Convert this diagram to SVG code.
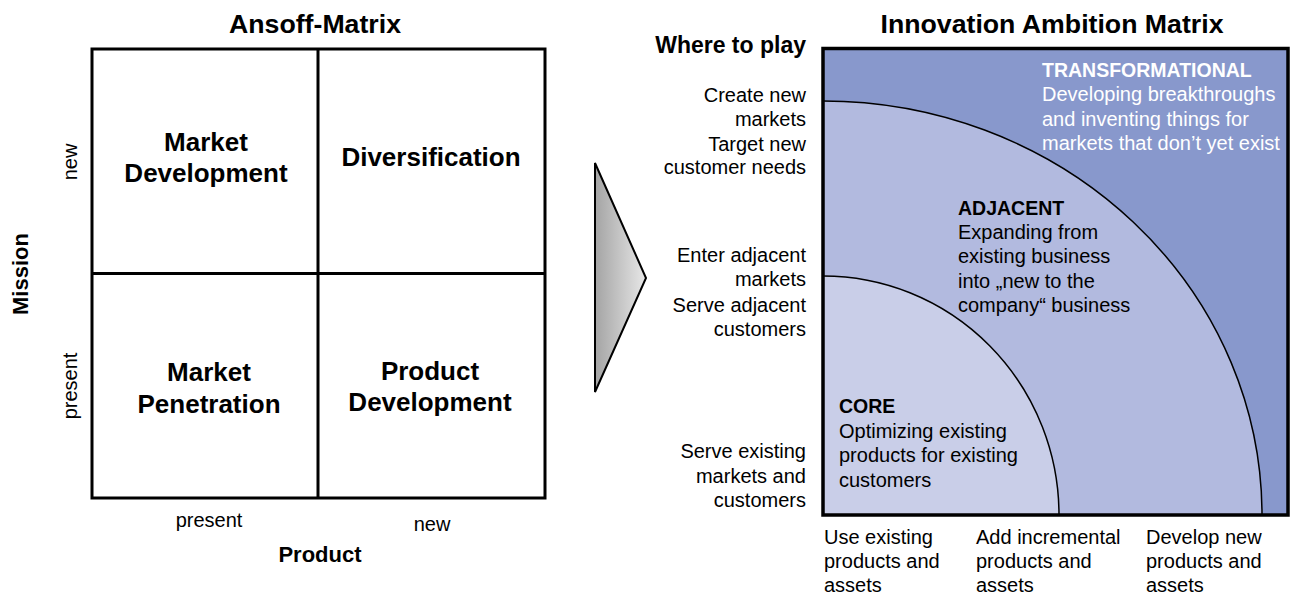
<svg xmlns="http://www.w3.org/2000/svg" width="1290" height="594" viewBox="0 0 1290 594">
<style>
text{font-family:"Liberation Sans",Arial,sans-serif;fill:#000}
.t{font-size:26.7px;font-weight:bold;text-anchor:middle}
.c{font-size:26px;font-weight:bold;text-anchor:middle}
.ax{font-size:20px;text-anchor:middle}
.axb{font-size:22px;font-weight:bold;text-anchor:middle}
.l{font-size:20px;text-anchor:end}
.r{font-size:20px}
.rb{font-size:19.5px;font-weight:bold}
.w{fill:#fff}
.grid{fill:none;stroke:#000;stroke-width:3}
.arc{fill:none;stroke:#000;stroke-width:1.5}
</style>
<defs>
<linearGradient id="gray" x1="0" y1="0" x2="1" y2="0">
<stop offset="0" stop-color="#a4a4a4"/>
<stop offset="1" stop-color="#e8e8e8"/>
</linearGradient>
</defs>

<g id="ansoff">
<text class="t" x="315" y="33">Ansoff-Matrix</text>
<rect class="grid" x="92" y="49" width="453" height="449"/>
<line class="grid" x1="92" y1="273.5" x2="545" y2="273.5"/>
<line class="grid" x1="318" y1="49" x2="318" y2="498"/>
<g id="cell-market-development"><text class="c" x="206" y="151">Market</text><text class="c" x="206" y="182">Development</text></g>
<g id="cell-diversification"><text class="c" x="431" y="166">Diversification</text></g>
<g id="cell-market-penetration"><text class="c" x="209" y="381">Market</text><text class="c" x="209" y="413">Penetration</text></g>
<g id="cell-product-development"><text class="c" x="430" y="380">Product</text><text class="c" x="430" y="411">Development</text></g>
<text class="ax" transform="translate(77,162) rotate(-90)">new</text>
<text class="ax" transform="translate(77,386) rotate(-90)">present</text>
<text class="axb" transform="translate(28,274) rotate(-90)">Mission</text>
<text class="ax" x="209" y="527">present</text>
<text class="ax" x="432" y="531">new</text>
<text class="axb" x="320" y="562">Product</text>
</g>

<g id="connectors">
<polygon points="595,163 646,278 595,392" fill="url(#gray)" stroke="#000" stroke-width="2" stroke-linejoin="miter"/>
</g>

<g id="innovation">
<text class="t" x="1052" y="33">Innovation Ambition Matrix</text>
<g id="transformational">
<rect x="823" y="48.5" width="466" height="466.5" fill="#8898cc"/>
</g>
<g id="adjacent">
<path d="M823,101 A439,414 0 0 1 1262,515 L823,515 Z" fill="#b2badf"/>
<path class="arc" d="M823,101 A439,414 0 0 1 1262,515"/>
</g>
<g id="core">
<path d="M823,276 A236,239 0 0 1 1059,515 L823,515 Z" fill="#c9cee8"/>
<path class="arc" d="M823,276 A236,239 0 0 1 1059,515"/>
</g>
<rect x="823" y="48.5" width="465" height="466.5" fill="none" stroke="#000" stroke-width="3.5"/>

<text class="rb w" x="1042" y="77">TRANSFORMATIONAL</text>
<text class="r w" x="1042" y="101">Developing breakthroughs</text>
<text class="r w" x="1042" y="126">and inventing things for</text>
<text class="r w" x="1042" y="150">markets that don’t yet exist</text>

<text class="rb" x="958" y="215">ADJACENT</text>
<text class="r" x="958" y="239">Expanding from</text>
<text class="r" x="958" y="263">existing business</text>
<text class="r" x="958" y="288">into „new to the</text>
<text class="r" x="958" y="312">company“ business</text>

<text class="rb" x="839" y="413">CORE</text>
<text class="r" x="839" y="438">Optimizing existing</text>
<text class="r" x="839" y="462">products for existing</text>
<text class="r" x="839" y="487">customers</text>

<text class="axb" x="806" y="53" style="text-anchor:end;font-size:23px">Where to play</text>
<text class="l" x="806" y="102">Create new</text>
<text class="l" x="806" y="126">markets</text>
<text class="l" x="806" y="151">Target new</text>
<text class="l" x="806" y="174">customer needs</text>
<text class="l" x="806" y="262">Enter adjacent</text>
<text class="l" x="806" y="286">markets</text>
<text class="l" x="806" y="312">Serve adjacent</text>
<text class="l" x="806" y="336">customers</text>
<text class="l" x="806" y="458">Serve existing</text>
<text class="l" x="806" y="483">markets and</text>
<text class="l" x="806" y="507">customers</text>

<text class="r" x="824" y="544">Use existing</text>
<text class="r" x="824" y="568">products and</text>
<text class="r" x="824" y="592">assets</text>
<text class="r" x="976" y="544">Add incremental</text>
<text class="r" x="976" y="568">products and</text>
<text class="r" x="976" y="592">assets</text>
<text class="r" x="1146" y="544">Develop new</text>
<text class="r" x="1146" y="568">products and</text>
<text class="r" x="1146" y="592">assets</text>
</g>
</svg>
